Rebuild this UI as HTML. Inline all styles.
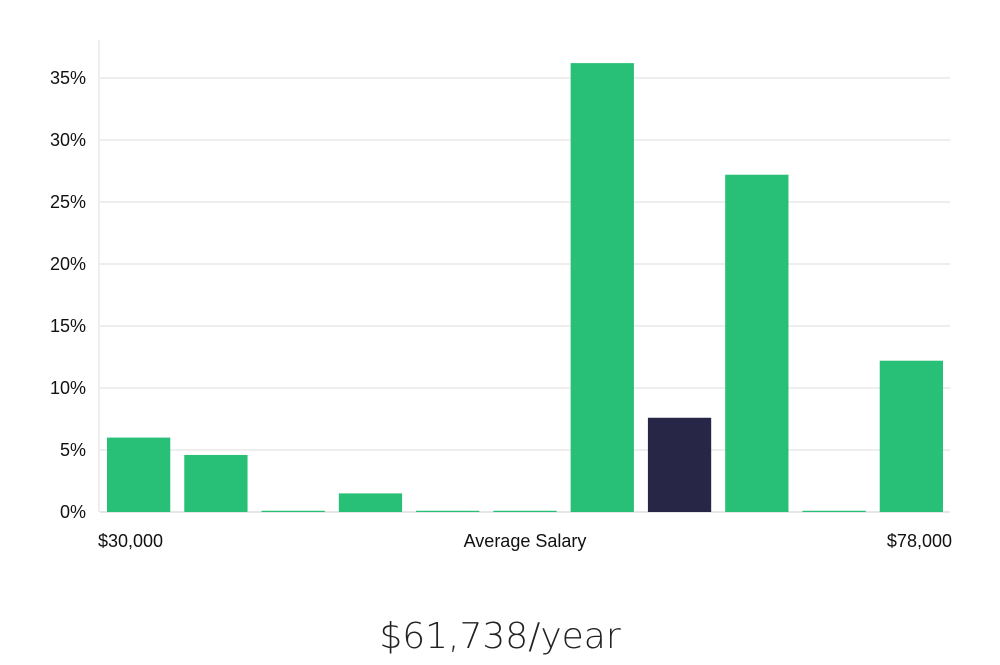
<!DOCTYPE html>
<html><head><meta charset="utf-8"><style>
body{margin:0;background:#fff;width:1000px;height:660px;overflow:hidden;font-family:"Liberation Sans","DejaVu Sans",sans-serif}
</style></head><body>
<svg id="chart" width="1000" height="660" xmlns="http://www.w3.org/2000/svg">
<g id="grid"></g><g id="bars"></g><g id="labels"></g>
<text x="98" y="547" font-size="18" fill="#111">$30,000</text>
<text x="525" y="547" font-size="18" fill="#111" text-anchor="middle">Average Salary</text>
<text x="952" y="547" font-size="18" fill="#111" text-anchor="end">$78,000</text>
<text x="500" y="648" font-size="36" fill="#222" text-anchor="middle" font-family="DejaVu Sans" font-weight="200">$61,738/year</text>
</svg>
<script>
const categories=["b1","b2","b3","b4","b5","b6","b7","b8","b9","b10","b11"];
const values=[6.0,4.6,0.1,1.5,0.1,0.1,36.2,7.6,27.2,0.1,12.2];
const highlight=[false,false,false,false,false,false,false,true,false,false,false];
const yTicks=[0,5,10,15,20,25,30,35];
const ns="http://www.w3.org/2000/svg";
const x0=100,x1=950,y0=512,pxPer=12.4;
const y=v=>y0-v*pxPer;
const step=(x1-x0)/categories.length;
const g=document.getElementById('grid'),b=document.getElementById('bars'),l=document.getElementById('labels');
const ax=document.createElementNS(ns,'line');


ax.setAttribute('x1',99);ax.setAttribute('x2',99);ax.setAttribute('y1',40);ax.setAttribute('y2',y0);ax.setAttribute('stroke','#ddd');
g.appendChild(ax);
yTicks.forEach(t=>{
 const ln=document.createElementNS(ns,'line');
 
 
 ln.setAttribute('x1',x0);ln.setAttribute('x2',x1);ln.setAttribute('y1',y(t));ln.setAttribute('y2',y(t));
 ln.setAttribute('stroke',t===0?'#ccc':'#ddd');
 g.appendChild(ln);
 const tx=document.createElementNS(ns,'text');
 
 
 tx.setAttribute('x',86);tx.setAttribute('y',y(t)+6);tx.setAttribute('text-anchor','end');
 tx.setAttribute('font-size','18');tx.setAttribute('fill','#111');
 tx.textContent=t+'%';
 l.appendChild(tx);
});
values.forEach((v,i)=>{
 const r=document.createElementNS(ns,'rect');
 
 
 r.setAttribute('x',x0+i*step+7);r.setAttribute('width',step-14);
 r.setAttribute('y',y(v));r.setAttribute('height',v*pxPer);
 r.setAttribute('fill',highlight[i]?'#282646':'#28bf76');
 b.appendChild(r);
});
</script>
</body></html>
